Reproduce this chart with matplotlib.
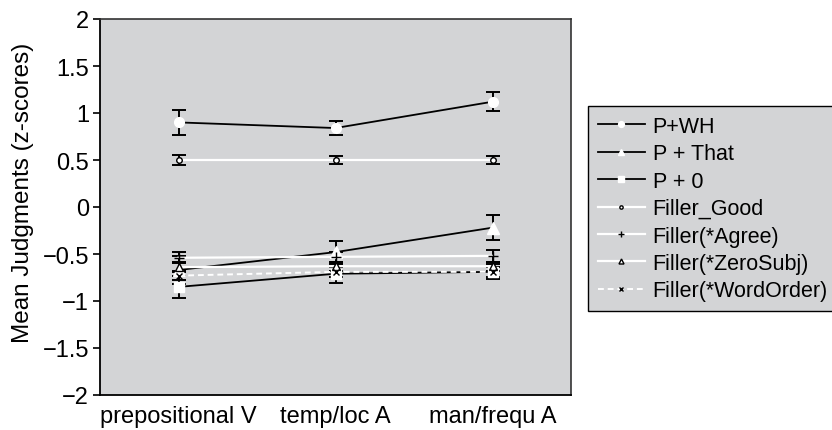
import matplotlib
matplotlib.use("Agg")
import matplotlib.pyplot as plt
from matplotlib.ticker import FuncFormatter

plt.rcParams['font.family'] = ['Liberation Sans', 'DejaVu Sans']

categories = ["prepositional V", "temp/loc A", "man/frequ A"]

p_wh = [0.90, 0.84, 1.12]
p_wh_err = [0.13, 0.07, 0.10]
p_that = [-0.67, -0.48, -0.22]
p_that_err = [0.15, 0.12, 0.13]
p_zero = [-0.85, -0.71, -0.69]
p_zero_err = [0.12, 0.10, 0.08]
filler_good = [0.50, 0.50, 0.50]
filler_good_err = [0.05, 0.04, 0.04]
filler_agree = [-0.54, -0.53, -0.52]
filler_agree_err = [0.06, 0.05, 0.06]
filler_zerosubj = [-0.64, -0.63, -0.63]
filler_zerosubj_err = [0.05, 0.05, 0.05]
filler_wordorder = [-0.73, -0.69, -0.69]
filler_wordorder_err = [0.05, 0.05, 0.05]

W, H = 832, 431
fig = plt.figure(figsize=(W / 100, H / 100), dpi=100)
ax = fig.add_axes([100 / W, (H - 396) / H, 471 / W, 376 / H])
ax.set_facecolor("#d3d4d6")

x = list(range(len(categories)))
err_kw = dict(ecolor="black", elinewidth=1.4, capsize=5, capthick=1.4)

series = [
    ("P+WH", p_wh, p_wh_err, dict(color="black", lw=1.3, marker="o", ms=7,
                                  mfc="white", mec="white")),
    ("P + That", p_that, p_that_err, dict(color="black", lw=1.3, marker="^", ms=8,
                                          mfc="white", mec="white")),
    ("P + 0", p_zero, p_zero_err, dict(color="black", lw=1.3, marker="s", ms=7,
                                       mfc="white", mec="white")),
    ("Filler_Good", filler_good, filler_good_err, dict(color="white", lw=1.6, marker="o", ms=4,
                                                       mfc="white", mec="black", mew=1.0)),
    ("Filler(*Agree)", filler_agree, filler_agree_err, dict(color="white", lw=1.6, marker="+", ms=7,
                                                            mfc="black", mec="black", mew=1.0)),
    ("Filler(*ZeroSubj)", filler_zerosubj, filler_zerosubj_err, dict(color="white", lw=1.6, marker="^", ms=6,
                                                                     mfc="white", mec="black", mew=1.0)),
    ("Filler(*WordOrder)", filler_wordorder, filler_wordorder_err, dict(color="white", lw=1.4, ls=(0, (3, 2)),
                                                                        marker="x", ms=5, mfc="black",
                                                                        mec="black", mew=1.0)),
]

handles = []
for label, vals, errs, style in series:
    ax.errorbar(x, vals, yerr=errs, fmt="none", zorder=2, **err_kw)
    line, = ax.plot(x, vals, label=label, zorder=3, **style)
    handles.append(line)

ax.set_xlim(-0.5, 2.5)
ax.set_ylim(-2, 2)
ax.set_yticks([-2, -1.5, -1, -0.5, 0, 0.5, 1, 1.5, 2])
ax.yaxis.set_major_formatter(FuncFormatter(lambda v, p: f"{v:g}".replace("-", "\u2212")))
ax.set_xticks(x)
ax.set_xticklabels(categories)
ax.tick_params(axis="y", direction="out", length=5, width=1.2, labelsize=17, pad=3)
ax.tick_params(axis="x", length=0, labelsize=17, pad=7)
ax.set_ylabel("Mean Judgments (z-scores)", fontsize=17.5)
ax.yaxis.set_label_coords(-0.14, 0.54)

for side in ("left", "bottom"):
    ax.spines[side].set_linewidth(1.3)
    ax.spines[side].set_color("black")
for side in ("top", "right"):
    ax.spines[side].set_linewidth(1.2)
    ax.spines[side].set_color("#333333")

leg = fig.legend(handles=handles, loc="upper left", bbox_to_anchor=(588 / W, 1 - 107 / H),
                 fontsize=15.5, frameon=True, fancybox=False, facecolor="#d3d4d6",
                 edgecolor="black", framealpha=1, handlelength=2.2, handletextpad=0.35,
                 labelspacing=0.3, borderpad=0.45, markerscale=0.6, borderaxespad=0)
leg.get_frame().set_linewidth(1.0)

fig.savefig("out.png", dpi=100)
